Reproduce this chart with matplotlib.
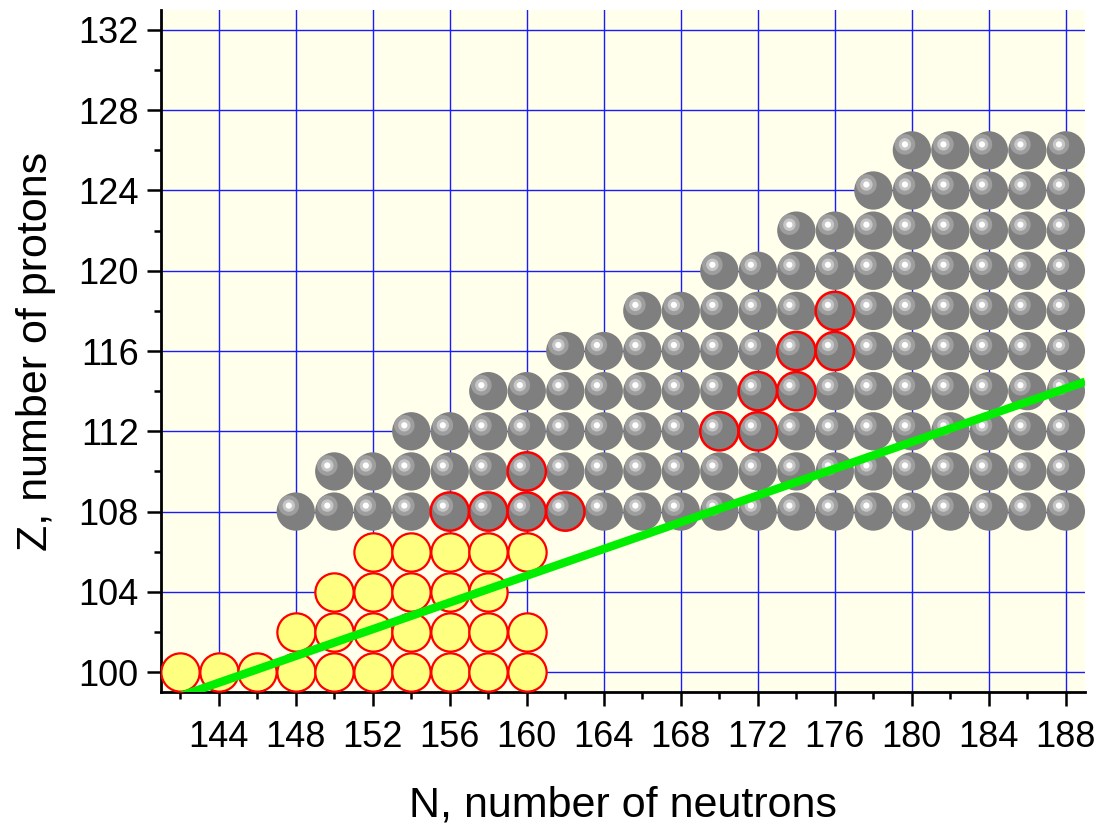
import numpy as np
import matplotlib
matplotlib.use("Agg")
import matplotlib.pyplot as plt
import matplotlib.transforms as mtransforms
from matplotlib.ticker import MultipleLocator

# Noyaux "jaunes" (connus avant)
yellow_rows = {
    100: [142, 144, 146, 148, 150, 152, 154, 156, 158, 160],
    102: [148, 150, 152, 154, 156, 158, 160],
    104: [150, 152, 154, 156, 158],
    106: [152, 154, 156, 158, 160],
}

# Noyaux superlourds (billes grises)
gray_rows = {
    108: [148, 150, 152, 154, 156, 158, 160, 162, 164, 166, 168, 170, 172, 174, 176, 178, 180, 182, 184, 186, 188],
    110: [150, 152, 154, 156, 158, 160, 162, 164, 166, 168, 170, 172, 174, 176, 178, 180, 182, 184, 186, 188],
    112: [154, 156, 158, 160, 162, 164, 166, 168, 170, 172, 174, 176, 178, 180, 182, 184, 186, 188],
    114: [158, 160, 162, 164, 166, 168, 170, 172, 174, 176, 178, 180, 182, 184, 186, 188],
    116: [162, 164, 166, 168, 170, 172, 174, 176, 178, 180, 182, 184, 186, 188],
    118: [166, 168, 170, 172, 174, 176, 178, 180, 182, 184, 186, 188],
    120: [170, 172, 174, 176, 178, 180, 182, 184, 186, 188],
    122: [174, 176, 178, 180, 182, 184, 186, 188],
    124: [178, 180, 182, 184, 186, 188],
    126: [180, 182, 184, 186, 188],
}

# Billes grises entourées de rouge
red_N = [156, 158, 160, 162, 160, 170, 172, 172, 174, 174, 176, 176]
red_Z = [108, 108, 108, 108, 110, 112, 112, 114, 114, 116, 116, 118]

# Ligne verte (ligne de stabilité)
line_N = [141, 189]
line_Z = [98.47, 114.47]


def flatten(rows):
    n, z = [], []
    for zz, ns in rows.items():
        n += ns
        z += [zz] * len(ns)
    return np.array(n), np.array(z)


yellow_N, yellow_Z = flatten(yellow_rows)
gray_N, gray_Z = flatten(gray_rows)

plt.rcParams['font.family'] = ['Liberation Sans', 'DejaVu Sans']

fig = plt.figure(figsize=(10.95, 8.24), dpi=100)
ax = fig.add_axes([0.147, 0.160, 0.844, 0.828])
ax.set_facecolor('#FFFFEC')

ax.set_xlim(141, 189)
ax.set_ylim(99, 133)

ax.xaxis.set_major_locator(MultipleLocator(4))
ax.xaxis.set_minor_locator(MultipleLocator(2))
ax.yaxis.set_major_locator(MultipleLocator(4))
ax.yaxis.set_minor_locator(MultipleLocator(2))
ax.set_xticks(np.arange(144, 189, 4))
ax.grid(True, which='major', color='#1A1AFF', linewidth=1.0, zorder=0)
ax.set_axisbelow(True)

for side in ['top', 'right']:
    ax.spines[side].set_visible(False)
for side in ['left', 'bottom']:
    ax.spines[side].set_linewidth(2)

ax.tick_params(which='major', direction='out', length=10, width=1.8, labelsize=26)
ax.tick_params(which='minor', direction='out', length=5, width=1.8)
ax.tick_params(axis='x', which='major', pad=10)
ax.tick_params(axis='y', which='major', pad=6)

size = 760

# noyaux jaunes
ax.scatter(yellow_N, yellow_Z, s=size, c='#FFFF80', edgecolors='#FF0000', linewidths=1.6, zorder=3)

# billes grises avec reflet
ax.scatter(gray_N, gray_Z, s=size, c='#7F7F7F', edgecolors='none', zorder=3)
hl = mtransforms.offset_copy(ax.transData, fig=fig, x=-5.0, y=4.3, units='points')
ax.scatter(gray_N, gray_Z, s=220, c='#9E9E9E', edgecolors='none', transform=hl, zorder=4)
ax.scatter(gray_N, gray_Z, s=80, c='#C6C6C6', edgecolors='none', transform=hl, zorder=4)
ax.scatter(gray_N, gray_Z, s=20, c='#FFFFFF', edgecolors='none', transform=hl, zorder=4)

# contours rouges
ax.scatter(red_N, red_Z, s=size, facecolors='none', edgecolors='#FF0000', linewidths=1.8, zorder=5)

ax.plot(line_N, line_Z, color='#00EE00', linewidth=6, solid_capstyle='butt', zorder=6)

ax.set_xlabel('N, number of neutrons', fontsize=31, labelpad=22)
ax.set_ylabel('Z, number of protons', fontsize=31, labelpad=16)

fig.savefig('out.png', dpi=100)
